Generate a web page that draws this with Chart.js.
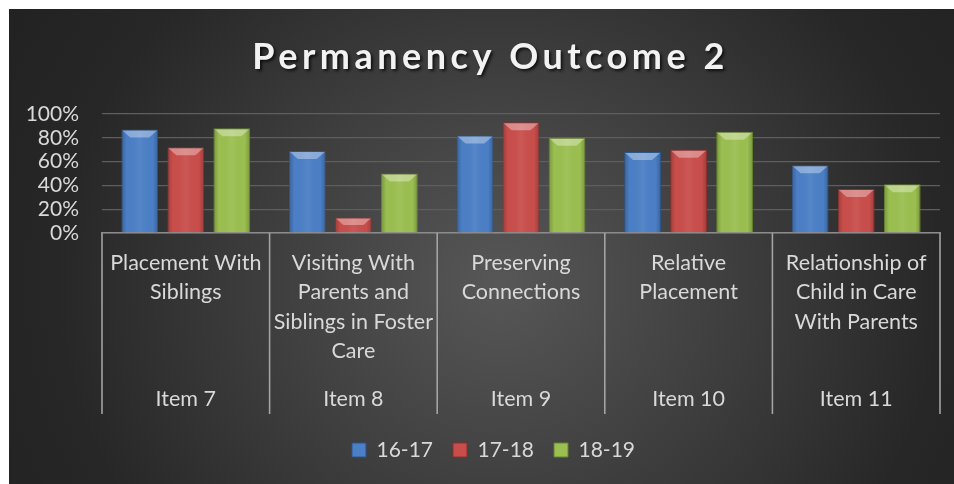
<!DOCTYPE html>
<html>
<head>
<meta charset="utf-8">
<script src="https://cdn.jsdelivr.net/npm/chart.js@4.4.1/dist/chart.umd.min.js"></script>
<style>
html, body { margin: 0; padding: 0; background: #fff; overflow: hidden; }
#okvir {
    position: absolute; left: 9px; top: 9px; width: 945px; height: 475px;
    background: radial-gradient(ellipse 65% 120% at 52% 58%, #575757 0%, #3e3e3e 38%, #272727 72%, #202020 100%);
}
#okvir canvas { position: absolute; left: 0; top: 0; }
</style>
</head>
<body>
<div id="okvir"><canvas id="grafik"></canvas></div>
<script>
// Podaci sa slike
const naslov = 'Permanency Outcome 2';
const kategorije = [
    ['Placement With', 'Siblings'],
    ['Visiting With', 'Parents and', 'Siblings in Foster', 'Care'],
    ['Preserving', 'Connections'],
    ['Relative', 'Placement'],
    ['Relationship of', 'Child in Care', 'With Parents']
];
const stavke = ['Item 7', 'Item 8', 'Item 9', 'Item 10', 'Item 11'];
const godine = ['16-17', '17-18', '18-19'];
const vrednosti1617 = [87, 69, 82, 68, 57];
const vrednosti1718 = [72, 13, 93, 70, 37];
const vrednosti1819 = [88, 50, 80, 85, 41];
const podeoci = [0, 20, 40, 60, 80, 100];

const boje = ['#4b7fc6', '#c94e4b', '#9bbf50'];
const ivice = ['#2f5588', '#8a302e', '#66832f'];
const tekstBoja = '#d9d9d9';
const visinaOsnove = 181; // dužina separatora ispod ose

// Dekoracije: naslov, "bevel" na stubicima, dvostepena x osa
const dekor = {
    id: 'dekor',
    afterLayout(chart) {
        // pomeri legendu malo udesno kao na originalu
        chart.legend.left += 19;
        chart.legend.right += 19;
    },
    afterDatasetsDraw(chart) {
        const ctx = chart.ctx;
        chart.data.datasets.forEach((ds, di) => {
            const meta = chart.getDatasetMeta(di);
            meta.data.forEach(el => {
                const p = el.getProps(['x', 'y', 'base', 'width'], true);
                const l = p.x - p.width / 2, r = p.x + p.width / 2;
                const t = p.y, b = p.base;
                const bv = Math.min(8, (b - t) / 2);
                ctx.save();
                const g = ctx.createLinearGradient(l, 0, r, 0);
                g.addColorStop(0, 'rgba(0,0,0,0.22)');
                g.addColorStop(0.15, 'rgba(0,0,0,0.0)');
                g.addColorStop(0.5, 'rgba(255,255,255,0.06)');
                g.addColorStop(0.85, 'rgba(0,0,0,0.0)');
                g.addColorStop(1, 'rgba(0,0,0,0.22)');
                ctx.fillStyle = g;
                ctx.fillRect(l + 1, t + 1, r - l - 2, b - t - 1);
                ctx.beginPath();
                ctx.moveTo(l + 1, t + 1);
                ctx.lineTo(r - 1, t + 1);
                ctx.lineTo(r - 1 - bv, t + bv);
                ctx.lineTo(l + 1 + bv, t + bv);
                ctx.closePath();
                ctx.fillStyle = 'rgba(255,255,255,0.35)';
                ctx.fill();
                ctx.restore();
            });
        });
    },
    afterDraw(chart) {
        const ctx = chart.ctx;
        const xs = chart.scales.x;
        const area = chart.chartArea;
        const korak = xs.getPixelForValue(1) - xs.getPixelForValue(0);
        ctx.save();
        // separatori kategorija
        ctx.strokeStyle = '#a3a3a3';
        ctx.lineWidth = 1.6;
        for (let i = 0; i <= stavke.length; i++) {
            const x = xs.getPixelForValue(0) - korak / 2 + i * korak;
            ctx.beginPath();
            ctx.moveTo(x, area.bottom);
            ctx.lineTo(x, area.bottom + visinaOsnove);
            ctx.stroke();
        }
        // drugi nivo oznaka
        ctx.fillStyle = tekstBoja;
        ctx.font = '21.5px Lato';
        ctx.textAlign = 'center';
        ctx.textBaseline = 'middle';
        stavke.forEach((s, i) => {
            ctx.fillText(s, xs.getPixelForValue(i), area.bottom + visinaOsnove - 15);
        });
        // naslov
        ctx.font = 'bold 36px Lato';
        ctx.letterSpacing = '4.5px';
        ctx.shadowColor = 'rgba(0,0,0,0.7)';
        ctx.shadowOffsetX = 2;
        ctx.shadowOffsetY = 2;
        ctx.shadowBlur = 3;
        ctx.fillStyle = '#f2f2f2';
        ctx.fillText(naslov, chart.width / 2 + 9, 48);
        ctx.restore();
    }
};

const serije = [vrednosti1617, vrednosti1718, vrednosti1819];

new Chart(document.getElementById('grafik'), {
    type: 'bar',
    data: {
        labels: kategorije,
        datasets: serije.map((v, i) => ({
            label: godine[i],
            data: v,
            backgroundColor: boje[i],
            borderColor: ivice[i],
            borderWidth: 1,
            categoryPercentage: 0.824,
            barPercentage: 0.8
        }))
    },
    options: {
        responsive: true,
        maintainAspectRatio: false,
        animation: false,
        layout: { padding: { top: 105, right: 14, left: 0, bottom: 13.5 } },
        plugins: {
            title: { display: false },
            tooltip: { enabled: false },
            legend: {
                position: 'bottom',
                labels: {
                    color: tekstBoja,
                    font: { family: 'Lato', size: 21 },
                    boxWidth: 14,
                    boxHeight: 14,
                    padding: 20
                }
            }
        },
        scales: {
            x: {
                grid: { display: true, drawOnChartArea: false, drawTicks: false },
                border: { display: true, color: '#8c8c8c', width: 1.5 },
                ticks: {
                    color: tekstBoja,
                    font: { family: 'Lato', size: 21.5, lineHeight: 1.35 },
                    padding: 16,
                    maxRotation: 0,
                    autoSkip: false
                },
                afterFit(s) { s.height = visinaOsnove + 5.5; }
            },
            y: {
                min: 0,
                max: 100,
                afterBuildTicks(s) { s.ticks = podeoci.map(v => ({ value: v })); },
                grid: { color: '#5e5e5e', lineWidth: 1.3, drawTicks: false },
                border: { display: false },
                ticks: {
                    color: tekstBoja,
                    font: { family: 'Lato', size: 21 },
                    padding: 23,
                    autoSkip: false,
                    callback: v => v + '%'
                },
                afterFit(s) { s.width = 93; }
            }
        }
    },
    plugins: [dekor]
});
</script>
</body>
</html>
